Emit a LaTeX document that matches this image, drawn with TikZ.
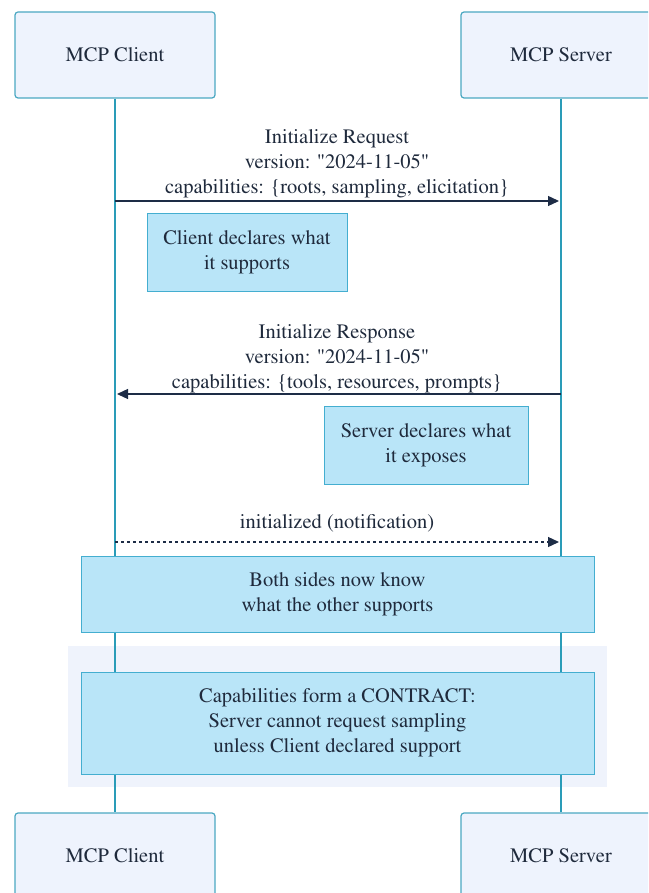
\documentclass[tikz,border=0pt]{standalone}
\usepackage[T1]{fontenc}
\renewcommand{\rmdefault}{ptm}
\usetikzlibrary{arrows.meta}

\definecolor{actfill}{HTML}{EEF3FD}
\definecolor{actdraw}{HTML}{4BA8C2}
\definecolor{lifeline}{HTML}{2A9CB8}
\definecolor{notefill}{HTML}{B9E5F8}
\definecolor{notedraw}{HTML}{44AED0}
\definecolor{msgline}{HTML}{1D2C46}
\definecolor{ink}{HTML}{1F2A3C}
\definecolor{regionfill}{HTML}{EFF3FC}

\tikzset{
  diagfont/.style={font=\rmfamily\fontsize{20.5}{25}\selectfont},
  actor/.style={diagfont, draw=actdraw, fill=actfill, line width=1.2pt, rounded corners=3pt,
    minimum width=200pt, minimum height=86pt, text=ink},
  notebox/.style={diagfont, draw=notedraw, fill=notefill, line width=1pt, text=ink,
    align=center, inner sep=0pt},
  msglabel/.style={diagfont, text=ink, align=center, inner sep=0pt},
  msg/.style={draw=msgline, line width=1.3pt, -{Triangle[length=11pt,width=10pt]}},
  life/.style={draw=lifeline, line width=2pt}
}

\begin{document}
\begin{tikzpicture}[x=1pt,y=-1pt]
  \useasboundingbox (0,0) rectangle (648,893);
  \clip (0,0) rectangle (648,893);

  % shaded region behind the contract note
  \fill[regionfill] (68,646) rectangle (607,787);

  % actors
  \node[actor] (ctop) at (115,55) {MCP Client};
  \node[actor] (stop) at (561,55) {MCP Server};
  \node[actor] (cbot) at (115,856) {MCP Client};
  \node[actor] (sbot) at (561,856) {MCP Server};

  % lifelines
  \draw[life] (ctop.south) -- (cbot.north);
  \draw[life] (stop.south) -- (sbot.north);

  % lifeline anchor points for messages
  \coordinate (c1) at (115,201);  \coordinate (s1) at (559,201);
  \coordinate (c2) at (117,394);  \coordinate (s2) at (561,394);
  \coordinate (c3) at (115,542);  \coordinate (s3) at (559,542);

  % initialize request
  \draw[msg] (c1) -- (s1);
  \node[msglabel, anchor=base] (reqlbl) at (337,194)
    {Initialize Request\\version: "2024-11-05"\\capabilities: \{roots, sampling, elicitation\}};
  \node[notebox, minimum width=200pt, minimum height=77pt] (cnote) at (247,252.5)
    {Client declares what\\it supports};

  % initialize response
  \draw[msg] (s2) -- (c2);
  \node[msglabel, anchor=base] (reslbl) at (337,388)
    {Initialize Response\\version: "2024-11-05"\\capabilities: \{tools, resources, prompts\}};
  \node[notebox, minimum width=204pt, minimum height=78pt] (snote) at (426,445)
    {Server declares what\\it exposes};

  % initialized notification
  \draw[msg, dashed, dash pattern=on 3pt off 3pt] (c3) -- (s3);
  \node[msglabel, anchor=base] (notlbl) at (337,528) {initialized (notification)};

  % spanning notes
  \node[notebox, minimum width=513pt, minimum height=76pt] (both) at (337.5,594)
    {Both sides now know\\what the other supports};
  \node[notebox, minimum width=513pt, minimum height=102pt] (contract) at (337.5,723)
    {Capabilities form a CONTRACT:\\Server cannot request sampling\\unless Client declared support};
\end{tikzpicture}
\end{document}
